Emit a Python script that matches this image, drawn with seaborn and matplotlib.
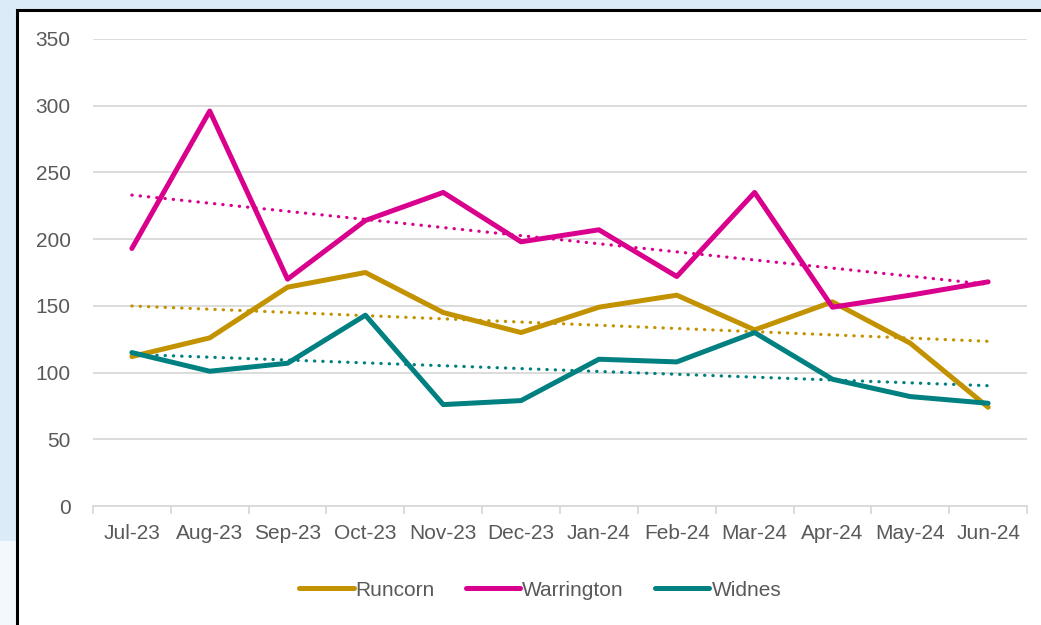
import numpy as np
import pandas as pd
import matplotlib.pyplot as plt
from matplotlib.patches import Rectangle
import seaborn as sns

months = ['Jul-23', 'Aug-23', 'Sep-23', 'Oct-23', 'Nov-23', 'Dec-23',
          'Jan-24', 'Feb-24', 'Mar-24', 'Apr-24', 'May-24', 'Jun-24']
runcorn = [112, 126, 164, 175, 145, 130, 149, 158, 132, 153, 122, 74]
warrington = [193, 296, 170, 214, 235, 198, 207, 172, 235, 149, 158, 168]
widnes = [115, 101, 107, 143, 76, 79, 110, 108, 130, 95, 82, 77]

colours = {'Runcorn': '#C29200', 'Warrington': '#D9008D', 'Widnes': '#008080'}

df = pd.DataFrame({'month': months * 3,
                   'pos': list(range(12)) * 3,
                   'value': runcorn + warrington + widnes,
                   'site': ['Runcorn'] * 12 + ['Warrington'] * 12 + ['Widnes'] * 12})

sns.set_style('white')
plt.rcParams['font.family'] = ['Liberation Sans', 'DejaVu Sans']

fig = plt.figure(figsize=(10.41, 6.25), dpi=100, facecolor='#DCEBF8')
# white chart frame with black border (screenshot crop)
fig.patches.append(Rectangle((0, 0), 0.017, 0.135, transform=fig.transFigure,
                             facecolor='#F3F8FD', edgecolor='none', zorder=-2))
fig.patches.append(Rectangle((0.0165, -0.05), 1.1, 1.034, transform=fig.transFigure,
                             facecolor='white', edgecolor='black', linewidth=2.2, zorder=-1))

ax = fig.add_axes([0.0893, 0.1904, 0.8973, 0.7472])
ax.set_facecolor('none')

sns.lineplot(data=df, x='pos', y='value', hue='site', palette=colours,
             linewidth=3.6, ax=ax, legend=False, sort=False)
for l in ax.lines:
    l.set_solid_capstyle('round')
    l.set_solid_joinstyle('round')

# linear trendlines
x = np.arange(12)
for name, vals in [('Runcorn', runcorn), ('Warrington', warrington), ('Widnes', widnes)]:
    m, b = np.polyfit(x, vals, 1)
    ax.plot(x, m * x + b, color=colours[name], linewidth=2.3,
            linestyle=(0, (0.1, 2.5)), dash_capstyle='round', zorder=1)

ax.set_xlim(-0.5, 11.5)
ax.set_ylim(0, 350)
ax.set_yticks(range(0, 351, 50))
ax.set_xticks(range(12))
ax.set_xticklabels(months)
ax.set_xticks(np.arange(-0.5, 12, 1), minor=True)
ax.grid(axis='y', color='#D9D9D9', linewidth=1.3)
ax.set_axisbelow(True)
for s in ['top', 'right', 'left']:
    ax.spines[s].set_visible(False)
ax.spines['bottom'].set_color('#D9D9D9')
ax.spines['bottom'].set_linewidth(1.3)
ax.tick_params(axis='x', which='major', bottom=False, length=0, pad=13,
               labelsize=15, labelcolor='#595959')
ax.tick_params(axis='x', which='minor', bottom=True, length=6, width=1.3,
               color='#D9D9D9', direction='out')
ax.tick_params(axis='y', length=0, pad=16, labelsize=15, labelcolor='#595959')
ax.set_xlabel('')
ax.set_ylabel('')

handles = [plt.Line2D([], [], color=colours[n], linewidth=3.6, solid_capstyle='round')
           for n in colours]
fig.legend(handles, list(colours), loc='center', bbox_to_anchor=(0.519, 0.056),
           ncol=3, frameon=False, fontsize=15, labelcolor='#595959',
           handlelength=2.6, handletextpad=0.1, columnspacing=1.5)

fig.savefig('out.png', dpi=100, facecolor=fig.get_facecolor())
